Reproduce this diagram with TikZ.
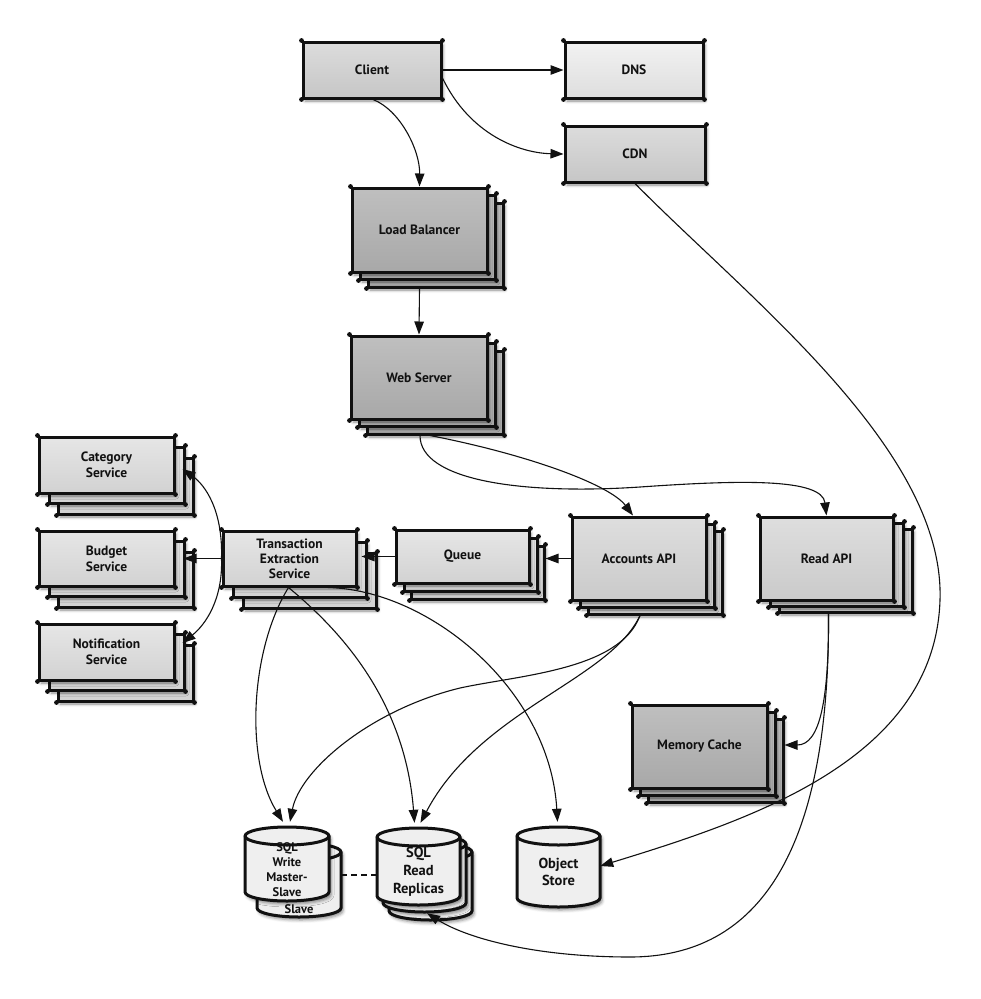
\documentclass[tikz,border=0pt]{standalone}
\usepackage{fontspec}
\setmainfont{PT Sans}
\usetikzlibrary{arrows.meta,shadows.blur}
\definecolor{ink}{HTML}{111111}
\definecolor{lgT}{HTML}{F2F2F2}\definecolor{lgB}{HTML}{DEDEDE}
\definecolor{mgT}{HTML}{DCDCDC}\definecolor{mgB}{HTML}{C6C6C6}
\definecolor{dgT}{HTML}{BFBFBF}\definecolor{dgB}{HTML}{A8A8A8}
\definecolor{sgT}{HTML}{E6E6E6}\definecolor{sgB}{HTML}{D2D2D2}
\definecolor{agT}{HTML}{DEDEDE}\definecolor{agB}{HTML}{CACACA}
\definecolor{cylfill}{HTML}{EFEFEF}
\tikzset{
  shd/.style={blur shadow={shadow xshift=2pt,shadow yshift=-3pt,shadow blur radius=3pt,shadow opacity=45}},
  bx/.style={draw=ink, line width=3pt, inner sep=2pt, align=center, text=ink,
    font=\bfseries\fontsize{13.5}{16}\selectfont, shd},
  lightbox/.style={bx, top color=lgT, bottom color=lgB},
  midbox/.style={bx, top color=mgT, bottom color=mgB},
  darkbox/.style={bx, top color=dgT, bottom color=dgB},
  svcbox/.style={bx, top color=sgT, bottom color=sgB},
  apibox/.style={bx, top color=agT, bottom color=agB},
  arr/.style={draw=ink, line width=1.1pt, -{Triangle[length=13pt,width=9.5pt]}},
  cylst/.style={draw=ink, line width=3pt, fill=cylfill},
  cyltxt/.style={align=center, text=ink, inner sep=0pt},
  ghost/.style={inner sep=0pt, draw=none}
}
\newcommand\corners[1]{\foreach \a in {north west,north east,south west,south east}{\fill[ink] (#1.\a) circle[radius=2.4pt];}}
\newcommand\cyl[4]{%
  \pgfmathsetmacro\rx{(#2-#1)/2}%
  \filldraw[cylst,shd] (#1,#3+9) -- (#1,#4-9) arc[start angle=180,end angle=0,x radius=\rx,y radius=9] -- (#2,#3+9) arc[start angle=0,end angle=-180,x radius=\rx,y radius=9] -- cycle;
  \draw[cylst,fill=none] (#1,#3+9) arc[start angle=180,end angle=0,x radius=\rx,y radius=9];
}
\begin{document}
\begin{tikzpicture}[x=1pt,y=-1pt]
\useasboundingbox (0,0) rectangle (981,999);

% Client, DNS, CDN
\node[midbox,minimum width=138pt,minimum height=56pt] (client) at (372,70) {Client}; \corners{client}
\node[lightbox,minimum width=138pt,minimum height=56pt] (dns) at (634,70) {DNS}; \corners{dns}
\node[midbox,minimum width=140pt,minimum height=56pt] (cdn) at (635,154) {CDN}; \corners{cdn}

% Load Balancer
\node[darkbox,minimum width=135pt,minimum height=84pt] (lb3) at (435.5,245) {}; \corners{lb3}
\node[darkbox,minimum width=135pt,minimum height=84pt] (lb2) at (427.5,237) {}; \corners{lb2}
\node[darkbox,minimum width=135pt,minimum height=84pt] (lb) at (419.5,230) {Load Balancer}; \corners{lb}

% Web Server
\node[darkbox,minimum width=136pt,minimum height=83pt] (ws3) at (435,392.5) {}; \corners{ws3}
\node[darkbox,minimum width=136pt,minimum height=83pt] (ws2) at (427,384.5) {}; \corners{ws2}
\node[darkbox,minimum width=136pt,minimum height=83pt] (ws) at (419,377.5) {Web Server}; \corners{ws}

% Category Service
\node[svcbox,minimum width=135pt,minimum height=56pt] (cat3) at (125.5,486) {}; \corners{cat3}
\node[svcbox,minimum width=135pt,minimum height=56pt] (cat2) at (116.5,475) {}; \corners{cat2}
\node[svcbox,minimum width=135pt,minimum height=56pt] (cat) at (106.5,465) {Category\\Service}; \corners{cat}

% Budget Service
\node[svcbox,minimum width=135pt,minimum height=55pt] (bud3) at (125.5,579.5) {}; \corners{bud3}
\node[svcbox,minimum width=135pt,minimum height=55pt] (bud2) at (116.5,568.5) {}; \corners{bud2}
\node[svcbox,minimum width=135pt,minimum height=55pt] (bud) at (106.5,558.5) {Budget\\Service}; \corners{bud}

% Notification Service
\node[svcbox,minimum width=135pt,minimum height=56pt] (not3) at (125.5,673) {}; \corners{not3}
\node[svcbox,minimum width=135pt,minimum height=56pt] (not2) at (116.5,662) {}; \corners{not2}
\node[svcbox,minimum width=135pt,minimum height=56pt] (not) at (106.5,652) {Notification\\Service}; \corners{not}

% Transaction Extraction Service
\node[svcbox,minimum width=133pt,minimum height=55pt] (tes3) at (309.5,580.5) {}; \corners{tes3}
\node[svcbox,minimum width=133pt,minimum height=55pt] (tes2) at (299.5,569.5) {}; \corners{tes2}
\node[svcbox,minimum width=133pt,minimum height=55pt,font=\bfseries\fontsize{13.5}{15}\selectfont] (tes) at (289.5,558.5) {Transaction\\Extraction\\Service}; \corners{tes}

% Queue
\node[svcbox,minimum width=133pt,minimum height=53pt] (q3) at (477.5,572.5) {}; \corners{q3}
\node[svcbox,minimum width=133pt,minimum height=53pt] (q2) at (470.5,564.5) {}; \corners{q2}
\node[svcbox,minimum width=133pt,minimum height=53pt] (q) at (462.5,556.5) {Queue}; \corners{q}

% Accounts API
\node[apibox,minimum width=134pt,minimum height=83pt] (acc3) at (655,572.5) {}; \corners{acc3}
\node[apibox,minimum width=134pt,minimum height=83pt] (acc2) at (647,565.5) {}; \corners{acc2}
\node[apibox,minimum width=134pt,minimum height=83pt] (acc) at (639,558.5) {Accounts API}; \corners{acc}

% Read API
\node[apibox,minimum width=133pt,minimum height=83pt] (rd3) at (845.5,570.5) {}; \corners{rd3}
\node[apibox,minimum width=133pt,minimum height=83pt] (rd2) at (836.5,564.5) {}; \corners{rd2}
\node[apibox,minimum width=133pt,minimum height=83pt] (rd) at (826.5,558.5) {Read API}; \corners{rd}

% Memory Cache
\node[darkbox,minimum width=135pt,minimum height=83pt] (mc3) at (715.5,760.5) {}; \corners{mc3}
\node[darkbox,minimum width=135pt,minimum height=83pt] (mc2) at (707.5,753.5) {}; \corners{mc2}
\node[darkbox,minimum width=135pt,minimum height=83pt] (mc) at (699.5,746.5) {Memory Cache}; \corners{mc}

% Cylinders
\cyl{257}{341}{843}{917}
\node[cyltxt,font=\bfseries\fontsize{12.5}{15}\selectfont] at (299,909) {Slave};
\cyl{245}{329}{827}{901}
\node[cyltxt,font=\bfseries\fontsize{12.5}{15}\selectfont] at (287,870) {SQL\\Write\\Master-\\Slave};
\node[ghost,minimum width=84pt,minimum height=74pt] (sqlw) at (287,864) {};
\node[ghost,minimum width=84pt,minimum height=74pt] (sqlwb) at (299,880) {};

\cyl{389}{472}{843}{920}
\cyl{383}{466}{835}{912}
\cyl{377}{460}{828}{905}
\node[cyltxt,font=\bfseries\fontsize{14.5}{18}\selectfont] at (418.5,872) {SQL\\Read\\Replicas};
\node[ghost,minimum width=83pt,minimum height=77pt] (sqlr) at (418.5,866.5) {};

\cyl{517}{600}{827}{907}
\node[cyltxt,font=\bfseries\fontsize{14.5}{17}\selectfont] at (558.5,872) {Object\\Store};
\node[ghost,minimum width=83pt,minimum height=80pt] (obj) at (558.5,867) {};

% Connectors
\draw[arr] (client.east) -- (dns.west);
\draw[arr] ([yshift=-8pt]client.east) .. controls (470,135) and (520,153) .. (cdn.west);
\draw[arr] ([xshift=1pt]client.south) .. controls (400,110) and (420,150) .. (lb.north);
\draw[arr] (lb3.south -| lb.south) -- (ws.north);
\draw[arr] ([xshift=-5pt]ws3.south) .. controls (530,455) and (610,485) .. ([xshift=-6pt]acc.north);
\draw[arr] ([xshift=-15pt]ws3.south) .. controls (420,480) and (520,495) .. (640,487) .. controls (740,480) and (822,478) .. (rd.north);
\draw[arr] (cdn.south) .. controls (750,300) and (945,450) .. (940,600) .. controls (935,760) and (750,820) .. ([yshift=1pt]obj.east);
\draw[arr] ([xshift=-17pt]rd3.south) .. controls (829,700) and (820,745) .. ([yshift=15.5pt]mc3.east);
\draw[arr] ([xshift=-17pt]rd3.south) .. controls (830,850) and (760,957) .. (630,957) .. controls (540,957) and (470,940) .. ([shift={(8.5pt,-8pt)}]sqlr.south);
\draw[arr] ([xshift=-15pt]acc3.south) .. controls (620,670) and (520,675) .. (460,688) .. controls (370,710) and (300,770) .. ([shift={(3pt,5pt)}]sqlw.north);
\draw[arr] ([xshift=-15pt]acc3.south) .. controls (610,680) and (480,710) .. ([shift={(2pt,5pt)}]sqlr.north);
\draw[arr] ([xshift=-1pt]tes.south) .. controls (250,650) and (245,760) .. ([shift={(-4pt,5pt)}]sqlw.north);
\draw[arr] ([xshift=-1pt]tes.south) .. controls (340,630) and (405,700) .. ([shift={(-4pt,5pt)}]sqlr.north);
\draw[arr] ([xshift=38.5pt]tes.south) .. controls (430,590) and (550,690) .. ([shift={(-1pt,5pt)}]obj.north);
\draw[arr] (q.west) -- ([xshift=4pt]tes.east |- q.west);
\draw[arr] (acc.west) -- (q3.east |- acc.west);
\draw[arr] (tes.west) -- ([xshift=8pt]bud.east);
\draw[arr] (tes.west) .. controls (223,510) and (205,485) .. ([shift={(7pt,-4pt)}]cat.east);
\draw[arr] (tes.west) .. controls (223,600) and (205,625) .. ([shift={(7pt,9pt)}]not.east);
\draw[ink, line width=1.2pt, dash pattern=on 6pt off 4pt] ([yshift=5pt]sqlwb.east) -- ([yshift=5pt]sqlwb.east -| sqlr.west);
\end{tikzpicture}
\end{document}
